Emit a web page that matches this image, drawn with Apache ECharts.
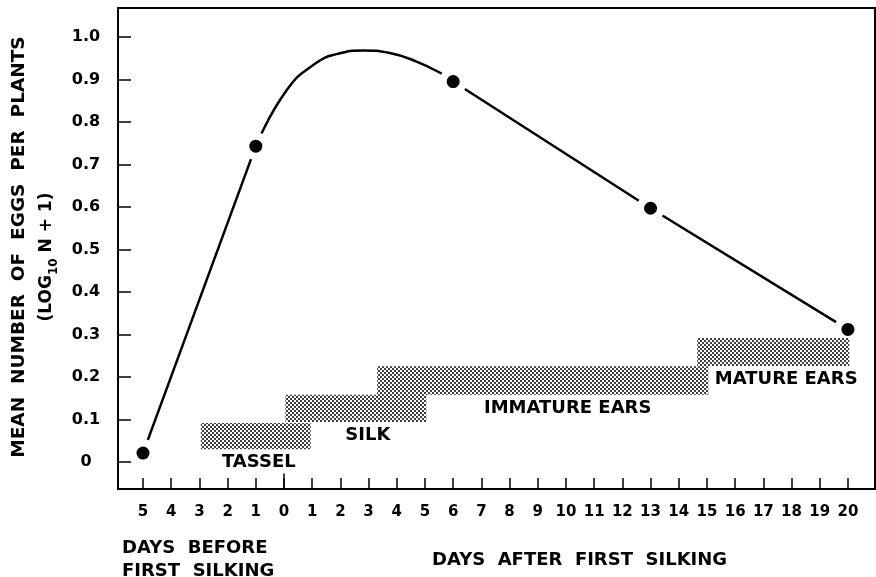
<!DOCTYPE html>
<html><head><meta charset="utf-8">
<script src="https://cdn.jsdelivr.net/npm/echarts@6/dist/echarts.min.js"></script>
<style>html,body{margin:0;padding:0;background:#fff}#c{width:876px;height:577px}</style>
</head><body><div id="c"></div>
<script>
// x positions 0..25 : 5..1 days before first silking, 0, then 1..20 days after
const tickLabels = ['5','4','3','2','1','0','1','2','3','4','5','6','7','8','9','10','11','12','13','14','15','16','17','18','19','20'];
const tickPositions = [0,1,2,3,4,5,6,7,8,9,10,11,12,13,14,15,16,17,18,19,20,21,22,23,24,25];
const yTickValues = [0,0.1,0.2,0.3,0.4,0.5,0.6,0.7,0.8,0.9,1.0];
const silkingPosition = 5;

// observed means (log10 N+1)
const obsX = [0, 4, 11, 18, 25];
const obsY = [0.021, 0.743, 0.895, 0.597, 0.312];

// fitted curve
const riseX = [0, 4];
const riseY = [0.021, 0.743];
const peakX = [4, 5.1, 6.15, 6.9, 7.8, 8.75, 9.7, 10.6, 11];
const peakY = [0.743, 0.875, 0.939, 0.960, 0.968, 0.962, 0.942, 0.913, 0.895];
const fallX = [11, 18, 25];
const fallY = [0.895, 0.597, 0.312];

// plant stages
const stageNames = ['TASSEL', 'SILK', 'IMMATURE EARS', 'MATURE EARS'];
const stageStart = [2.05, 5.05, 8.3, 19.65];
const stageEnd   = [5.95, 10.05, 20.05, 25.05];
const stageLow   = [0.030, 0.094, 0.158, 0.226];
const stageHigh  = [0.092, 0.158, 0.225, 0.292];

// ---- styling ----
const FONT = '"DejaVu Sans", sans-serif';
const labelDx = [3, 12, 25, 13];
const X_MIN = -0.887, X_MAX = 25.96, Y_MIN = -0.0635, Y_MAX = 1.068;

function makePattern() {
  const c = document.createElement('canvas');
  c.width = 4; c.height = 4;
  const g = c.getContext('2d');
  g.fillStyle = '#000';
  g.beginPath(); g.arc(1, 1, 1.0, 0, Math.PI * 2); g.fill();
  g.beginPath(); g.arc(3, 3, 1.0, 0, Math.PI * 2); g.fill();
  return c;
}
const pattern = { image: makePattern(), repeat: 'repeat' };

const zip = (a, b) => a.map((v, i) => [v, b[i]]);
const stageData = stageNames.map((n, i) => [stageStart[i], stageEnd[i], stageLow[i], stageHigh[i], i]);

const chart = echarts.init(document.getElementById('c'), null, { renderer: 'canvas' });
const lineStyle = { color: '#000', width: 2.5 };
chart.setOption({
  animation: false,
  backgroundColor: '#fff',
  grid: { left: 118, top: 8, right: 1, bottom: 88, show: true, borderColor: '#000', borderWidth: 2 },
  xAxis: {
    type: 'value', min: X_MIN, max: X_MAX,
    axisLine: { onZero: false, lineStyle: { color: '#000', width: 2 } },
    axisTick: { inside: true, length: 11, customValues: tickPositions, lineStyle: { color: '#000', width: 1.5 } },
    axisLabel: { customValues: tickPositions, margin: 16, color: '#000', fontFamily: FONT, fontWeight: 'bold', fontSize: 15,
      formatter: v => tickLabels[Math.round(v)] },
    splitLine: { show: false }
  },
  yAxis: {
    type: 'value', min: Y_MIN, max: Y_MAX,
    axisLine: { onZero: false, lineStyle: { color: '#000', width: 2 } },
    axisTick: { inside: true, length: 13, customValues: yTickValues, lineStyle: { color: '#000', width: 1.5 } },
    axisLabel: { customValues: yTickValues, margin: 32, align: 'center', color: '#000', fontFamily: FONT, fontWeight: 'bold', fontSize: 16,
      formatter: v => (Math.abs(v) < 1e-9 ? '0' : v.toFixed(1)) },
    splitLine: { show: false }
  },
  series: [
    { type: 'line', data: zip(riseX, riseY), showSymbol: false, lineStyle, z: 2, silent: true,
      markLine: { silent: true, symbol: 'none', label: { show: false }, lineStyle: { color: '#000', width: 1.5, type: 'solid' },
        data: [[{ coord: [silkingPosition, Y_MIN] }, { coord: [silkingPosition, -0.027] }]] } },
    { type: 'line', data: zip(peakX, peakY), smooth: 0.5, showSymbol: false, lineStyle, z: 2, silent: true },
    { type: 'line', data: zip(fallX, fallY), showSymbol: false, lineStyle, z: 2, silent: true },
    { type: 'scatter', data: zip(obsX, obsY), symbol: 'circle', symbolSize: 20.5, z: 3, silent: true,
      itemStyle: { color: '#000', borderColor: '#fff', borderWidth: 7.5, opacity: 1 } },
    { type: 'custom', z: 4, silent: true, data: stageData,
      renderItem: (params, api) => {
        const p0 = api.coord([api.value(0), api.value(3)]);
        const p1 = api.coord([api.value(1), api.value(2)]);
        const i = api.value(4);
        return { type: 'group', children: [
          { type: 'rect', shape: { x: p0[0], y: p0[1], width: p1[0] - p0[0], height: p1[1] - p0[1] }, style: { fill: pattern } },
          { type: 'text', x: (p0[0] + p1[0]) / 2 + labelDx[i], y: p1[1] + 13,
            style: { text: stageNames[i], font: 'bold 18px ' + FONT, fill: '#000', align: 'center', verticalAlign: 'middle' } }
        ]};
      } }
  ],
  graphic: [
    { type: 'text', x: 19, y: 247, rotation: Math.PI / 2,
      style: { text: 'MEAN  NUMBER  OF  EGGS  PER  PLANTS', font: 'bold 18.5px ' + FONT, fill: '#000', align: 'center', verticalAlign: 'middle' } },
    { type: 'text', x: 47, y: 257, rotation: Math.PI / 2,
      style: { text: '{a|(LOG}{s|10}{a| N + 1)}', align: 'center', verticalAlign: 'middle',
        rich: { a: { font: 'bold 17px ' + FONT, fill: '#000', lineHeight: 26, verticalAlign: 'middle' },
                s: { font: 'bold 12px ' + FONT, fill: '#000', lineHeight: 26, verticalAlign: 'bottom' } } } },
    { type: 'text', left: 122, top: 537,
      style: { text: 'DAYS  BEFORE\nFIRST  SILKING', font: 'bold 18px ' + FONT, fill: '#000', lineHeight: 23 } },
    { type: 'text', left: 432, top: 551,
      style: { text: 'DAYS  AFTER  FIRST  SILKING', font: 'bold 18px ' + FONT, fill: '#000' } }
  ]
});
</script></body></html>
